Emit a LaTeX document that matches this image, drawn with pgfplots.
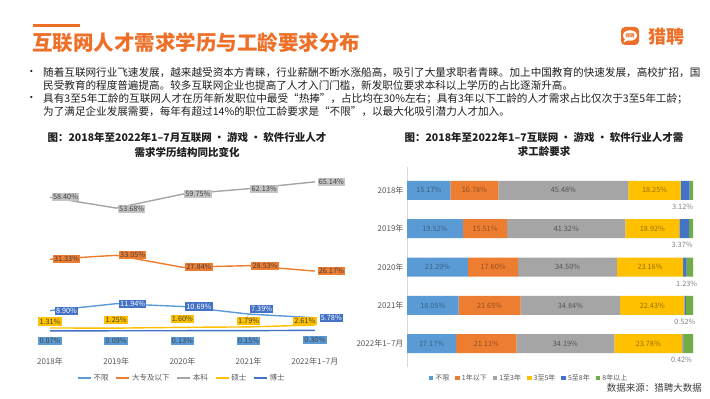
\documentclass[border=0pt]{standalone}
\usepackage{pgfplots}
\pgfplotsset{compat=1.18}
\usepackage{pgfplotstable}
\usepackage{fontspec}
\setmainfont{Noto Sans CJK SC}

\definecolor{cBlueL}{RGB}{91,155,213}
\definecolor{cOrange}{RGB}{237,125,49}
\definecolor{cGray}{RGB}{165,165,165}
\definecolor{cYellow}{RGB}{255,192,0}
\definecolor{cBlueD}{RGB}{68,114,196}
\definecolor{cGreen}{RGB}{112,173,71}
\definecolor{cTitle}{RGB}{238,112,40}
\definecolor{cText}{RGB}{64,64,64}
\definecolor{cTick}{RGB}{89,89,89}
\definecolor{cLabGray}{RGB}{196,196,196}
\definecolor{cAxis}{RGB}{217,217,217}

% ---------- left chart (education, %) ----------
\pgfplotstableread{
x v dx dy
0 8.90 16.5 0
1 11.94 16.5 0
2 10.69 16.5 0
3 7.39 13 5
4 5.78 16.5 0
}\lBuxian
\pgfplotstableread{
x v dx dy
0 31.33 16.5 0
1 33.05 16.5 0
2 27.84 16.5 0
3 28.53 16.5 0
4 26.17 16.5 0
}\lDazhuan
\pgfplotstableread{
x v dx dy
0 58.40 15.5 0
1 53.68 15.5 -1
2 59.75 15.5 0
3 62.13 15.5 0
4 65.14 16.5 0
}\lBenke
\pgfplotstableread{
x v dx dy
0 1.31 0 6.5
1 1.25 0 8
2 1.60 0 8.5
3 1.79 0 6
4 2.61 -10 4
}\lShuoshi
\pgfplotstableread{
x v dx dy
0 0.07 0 -10
1 0.09 0 -10
2 0.13 0 -10
3 0.15 0 -10
4 0.30 0 -10
}\lBoshi

% ---------- right chart (experience, %) ----------
% a=不限 b=1年以下 c=1至3年 d=3至5年 e=5至8年 f=8年以上 ; dx = label shift (pt)
\pgfplotstableread{
y a b c d e f dx
0 15.17 16.78 45.48 18.25 3.12 1.20 -7
1 19.52 15.51 41.32 18.92 3.37 1.36 -7
2 21.29 17.60 34.50 23.16 1.23 2.22 0
3 18.05 21.65 34.84 22.43 0.52 2.51 -1
4 17.17 21.11 34.19 23.78 0.42 3.33 -2
}\rData
\pgfplotstablecreatecol[create col/expr={\thisrow{a}/2}]{ma}{\rData}
\pgfplotstablecreatecol[create col/expr={\thisrow{a}+\thisrow{b}/2}]{mb}{\rData}
\pgfplotstablecreatecol[create col/expr={\thisrow{a}+\thisrow{b}+\thisrow{c}/2}]{mc}{\rData}
\pgfplotstablecreatecol[create col/expr={\thisrow{a}+\thisrow{b}+\thisrow{c}+\thisrow{d}/2}]{md}{\rData}
\pgfplotstablecreatecol[create col/expr={\thisrow{a}+\thisrow{b}+\thisrow{c}+\thisrow{d}+\thisrow{e}}]{me}{\rData}

\pgfplotsset{
  pctlabel/.style={
    point meta=explicit,
    nodes near coords={\pgfmathprintnumber[fixed,fixed zerofill,precision=2,assume math mode=true]{\pgfplotspointmeta}\%},
    nodes near coords align=center,
  },
  lser/.style n args={3}{
    color=#1, line width=1.4pt, mark=none, pctlabel,
    visualization depends on={\thisrow{dx}\as\ldx},
    visualization depends on={\thisrow{dy}\as\ldy},
    every node near coord/.append style={fill=#2, text=#3, font=\fontsize{7.3}{8}\selectfont,
      inner sep=1.3pt, xshift=\ldx pt, yshift=\ldy pt},
  },
  rlab/.style={
    draw=none, mark=none, pctlabel,
    every node near coord/.append style={text=#1, font=\fontsize{7.3}{8}\selectfont, inner sep=0pt},
  },
  rgeom/.style={
    at={(407pt,32.3pt)}, anchor=south west,
    scale only axis, width=286pt, height=199.4pt,
    xmin=0, xmax=100, ymin=-0.6, ymax=4.6, y dir=reverse, clip=false,
  },
}

\begin{document}
\begin{tikzpicture}[x=1pt,y=1pt]
\fill[white] (0,0) rectangle (710,399);
\useasboundingbox (0,0) rectangle (710,399);

% header
\fill[cTitle] (33,372) rectangle (80,375);
\node[anchor=west, inner sep=0, text=cTitle, font=\fontsize{20.5}{22}\selectfont\bfseries] at (32,356) {互联网人才需求学历与工龄要求分布};
% logo
\fill[cTitle, rounded corners=4pt] (621,354) rectangle (639,372);
\fill[white] (630,363.5) ellipse (7pt and 5.2pt);
\fill[white] (625,360) -- (623.5,356.5) -- (628,358.8) -- cycle;
\node[inner sep=0, text=cTitle, font=\fontsize{4.5}{5}\selectfont\bfseries] at (630,363.5) {猎聘};
\node[anchor=west, inner sep=0, text=cTitle, font=\fontsize{18}{20}\selectfont\bfseries] at (648,362) {猎聘};

% bullet text
\begin{scope}[every node/.style={anchor=west, inner sep=0, font=\fontsize{10.6}{12}\selectfont, text=black!88}]
\node at (26,326) {•};
\node at (43,326) {随着互联网行业飞速发展，越来越受资本方青睐，行业薪酬不断水涨船高，吸引了大量求职者青睐。加上中国教育的快速发展，高校扩招，国};
\node at (43,313) {民受教育的程度普遍提高。较多互联网企业也提高了人才入门门槛，新发职位要求本科以上学历的占比逐渐升高。};
\node at (26,300) {•};
\node at (43,300) {具有3至5年工龄的互联网人才在历年新发职位中最受“热捧”，占比均在30\%左右；具有3年以下工龄的人才需求占比仅次于3至5年工龄；};
\node at (43,287) {为了满足企业发展需要，每年有超过14\%的职位工龄要求是“不限”，以最大化吸引潜力人才加入。};
\end{scope}

% chart titles
\begin{scope}[every node/.style={inner sep=0, font=\fontsize{10.5}{12}\selectfont\bfseries, text=black!88}]
\node at (187,261) {图：2018年至2022年1–7月互联网 · 游戏 · 软件行业人才};
\node at (187,247) {需求学历结构同比变化};
\node at (544,261) {图：2018年至2022年1–7互联网 · 游戏 · 软件行业人才需};
\node at (544,247) {求工龄要求};
\end{scope}

% source
\node[anchor=east, inner sep=0, font=\fontsize{9.5}{11}\selectfont, text=cText] at (702,11) {数据来源：猎聘大数据};

% ---------------- left chart ----------------
\begin{axis}[
  at={(16.9pt,45.1pt)}, anchor=south west,
  scale only axis, width=331pt, height=194.65pt,
  xmin=-0.5, xmax=4.5, ymin=-10, ymax=75,
  axis line style={draw=none},
  major tick length=0pt,
  xtick={0,1,2,3,4},
  xticklabels={2018年,2019年,2020年,2021年,2022年1–7月},
  ytick=\empty,
  xticklabel style={font=\fontsize{8}{9}\selectfont, text=cTick},
  clip=false,
  legend style={at={(0.4988,-0.124)}, anchor=center, draw=none, fill=none,
     font=\fontsize{7.5}{8}\selectfont, text=cTick, legend columns=5,
     /tikz/every even column/.append style={column sep=5pt}},
  legend image code/.code={\draw[#1,line width=1.4pt] (0pt,0pt) -- (13pt,0pt);},
]
\addplot[lser={cBlueL}{cBlueD}{white}] table[x=x,y=v,meta=v]{\lBuxian};
\addlegendentry{不限}
\addplot[lser={cOrange}{cOrange}{cText}] table[x=x,y=v,meta=v]{\lDazhuan};
\addlegendentry{大专及以下}
\addplot[lser={cGray}{cLabGray}{cText}] table[x=x,y=v,meta=v]{\lBenke};
\addlegendentry{本科}
\addplot[lser={cYellow}{cYellow}{cText}] table[x=x,y=v,meta=v]{\lShuoshi};
\addlegendentry{硕士}
\addplot[lser={cBlueD}{cBlueL}{cText}] table[x=x,y=v,meta=v]{\lBoshi};
\addlegendentry{博士}
\draw[cGray, line width=0.5pt] (axis cs:3,7.39) ++(-2pt,-4pt) -- ++(3pt,5pt);
\end{axis}

% ---------------- right chart: bars ----------------
\begin{axis}[
  rgeom,
  xbar stacked, bar width=19pt,
  axis x line=none, axis y line*=left,
  y axis line style={draw=cAxis, line width=0.6pt, -},
  major tick length=0pt,
  xtick=\empty,
  ytick={0,1,2,3,4},
  yticklabels={2018年,2019年,2020年,2021年,2022年1–7月},
  yticklabel style={font=\fontsize{8}{9}\selectfont, text=cTick},
  legend style={at={(0.4266,-0.0567)}, anchor=center, draw=none, fill=none,
     font=\fontsize{7}{8}\selectfont, text=cTick, legend columns=6,
     /tikz/every even column/.append style={column sep=4pt}},
  legend image code/.code={\fill[#1] (0pt,-2.3pt) rectangle (4.6pt,2.3pt);},
]
\addplot[fill=cBlueL, draw=none] table[x=a,y=y]{\rData};
\addlegendentry{不限}
\addplot[fill=cOrange, draw=none] table[x=b,y=y]{\rData};
\addlegendentry{1年以下}
\addplot[fill=cGray, draw=none] table[x=c,y=y]{\rData};
\addlegendentry{1至3年}
\addplot[fill=cYellow, draw=none] table[x=d,y=y]{\rData};
\addlegendentry{3至5年}
\addplot[fill=cBlueD, draw=none] table[x=e,y=y]{\rData};
\addlegendentry{5至8年}
\addplot[fill=cGreen, draw=none] table[x=f,y=y]{\rData};
\addlegendentry{8年以上}
\end{axis}

% ---------------- right chart: value labels ----------------
\begin{axis}[rgeom, hide axis]
\addplot[rlab={cBlueL!62!black}] table[x=ma,y=y,meta=a]{\rData};
\addplot[rlab={cOrange!62!black}] table[x=mb,y=y,meta=b]{\rData};
\addplot[rlab={cGray!50!black}] table[x=mc,y=y,meta=c]{\rData};
\addplot[rlab={cYellow!58!black}] table[x=md,y=y,meta=d]{\rData};
\addplot[draw=none, mark=none, pctlabel,
    visualization depends on={\thisrow{dx}\as\rdx},
    every node near coord/.append style={xshift=\rdx pt, yshift=-16.5pt,
      text=black!50, font=\fontsize{7.3}{8}\selectfont, inner sep=0pt},
  ] table[x=me,y=y,meta=e]{\rData};
\end{axis}
\end{tikzpicture}
\end{document}
